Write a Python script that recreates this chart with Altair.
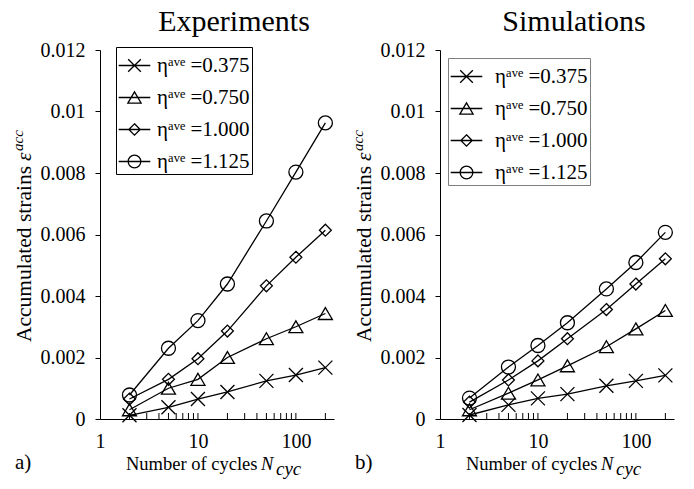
import altair as alt
import pandas as pd

# Number of loading cycles at which the accumulated strain was recorded
cycles = [2, 5, 10, 20, 50, 100, 200]

# Series labels (average stress ratio)
eta_labels = ["ηᵃᵛᵉ =0.375", "ηᵃᵛᵉ =0.750", "ηᵃᵛᵉ =1.000", "ηᵃᵛᵉ =1.125"]

# Experiments: accumulated strain per series
exp_0375 = [0.00012, 0.00038, 0.00065, 0.00088, 0.00124, 0.00143, 0.00167]
exp_0750 = [0.00030, 0.00100, 0.00129, 0.00200, 0.00261, 0.00300, 0.00343]
exp_1000 = [0.00065, 0.00129, 0.00196, 0.00286, 0.00433, 0.00526, 0.00614]
exp_1125 = [0.00078, 0.00230, 0.00320, 0.00439, 0.00644, 0.00803, 0.00963]

# Simulations: accumulated strain per series
sim_0375 = [0.00013, 0.00046, 0.00067, 0.00081, 0.00108, 0.00124, 0.00142]
sim_0750 = [0.00030, 0.00084, 0.00127, 0.00173, 0.00235, 0.00293, 0.00353]
sim_1000 = [0.00055, 0.00127, 0.00189, 0.00261, 0.00356, 0.00439, 0.00521]
sim_1125 = [0.00068, 0.00169, 0.00239, 0.00313, 0.00423, 0.00509, 0.00607]

# Axis ticks / labels
x_labels = [1, 10, 100]
x_minor = [2, 3, 4, 5, 6, 7, 8, 9, 10, 20, 30, 40, 50, 60, 70, 80, 90, 100, 200]
y_ticks = [0, 0.002, 0.004, 0.006, 0.008, 0.01, 0.012]

FONT = "Liberation Serif"
W, H = 234, 369

# unfilled marker outlines (x, triangle, diamond, circle)
marker_paths = [
    "M-1,-1L1,1M-1,1L1,-1",
    "M0,-0.85L1,0.85L-1,0.85Z",
    "M0,-0.85L0.85,0L0,0.85L-0.85,0Z",
    "M1,0A1,1 0 1,1 -1,0A1,1 0 1,1 1,0Z",
]
# legend glyphs: a short line with the marker on it
legend_paths = [
    "M-1,0L1,0M-0.4,-0.4L0.4,0.4M-0.4,0.4L0.4,-0.4",
    "M-1,0L1,0M0,-0.36L0.42,0.36L-0.42,0.36Z",
    "M-1,0L1,0M0,-0.36L0.36,0L0,0.36L-0.36,0Z",
    "M-1,0L1,0M0.4,0A0.4,0.4 0 1,1 -0.4,0A0.4,0.4 0 1,1 0.4,0Z",
]


def long_table(series):
    rows = []
    for label, vals in zip(eta_labels, series):
        for n, v in zip(cycles, vals):
            rows.append({"N": n, "strain": v, "label": label})
    return pd.DataFrame(rows)


def text_piece(txt, x, y, size, style="normal", angle=0):
    return alt.Chart(pd.DataFrame({"t": [txt]})).mark_text(
        text=txt, font=FONT, fontSize=size, fontStyle=style, color="black",
        align="left", baseline="alphabetic", angle=angle,
    ).encode(x=alt.value(x), y=alt.value(y))


def panel(title, series, lx, ly, lstroke, loffset, letter):
    df = long_table(series)
    x = alt.X(
        "N:Q",
        scale=alt.Scale(type="log", domain=[1, 245], nice=False),
        axis=alt.Axis(values=x_labels, format="d", ticks=False, grid=False, title=None,
                      labelFont=FONT, labelFontSize=20, labelColor="black",
                      labelPadding=12, labelFlush=False, labelOverlap=False,
                      domainColor="black", domainWidth=1),
    )
    y = alt.Y(
        "strain:Q",
        scale=alt.Scale(domain=[0, 0.012], nice=False),
        axis=alt.Axis(values=y_ticks, format="~g", grid=False, title=None,
                      tickSize=5, tickColor="black", labelFont=FONT, labelFontSize=20,
                      labelColor="black", labelPadding=10, labelOverlap=False,
                      domainColor="black", domainWidth=1),
    )

    lines = alt.Chart(df).mark_line(color="black", strokeWidth=1.3).encode(
        x=x, y=y, detail="label:N")
    points = alt.Chart(df).mark_point(
        filled=False, color="black", strokeWidth=1.3, size=196, opacity=1
    ).encode(
        x=x, y=y,
        shape=alt.Shape("label:N", scale=alt.Scale(domain=eta_labels, range=marker_paths),
                        legend=None),
    )
    legend_layer = alt.Chart(df).transform_filter("false").mark_point(
        filled=False, color="black", strokeWidth=1.3, opacity=1
    ).encode(
        x=x, y=y,
        shape=alt.Shape(
            "label:N",
            scale=alt.Scale(domain=eta_labels, range=legend_paths),
            legend=alt.Legend(
                title=None, orient="none", legendX=lx, legendY=ly,
                labelFont=FONT, labelFontSize=21, labelColor="black", labelLimit=300,
                symbolSize=1000, symbolStrokeWidth=1.3, symbolStrokeColor="black",
                symbolFillColor="transparent", symbolOpacity=1,
                strokeColor=lstroke, fillColor="white", padding=2,
                rowPadding=5, labelOffset=loffset,
            ),
        ),
    )
    minor = alt.Chart(pd.DataFrame({"N": x_minor})).mark_rule(
        color="black", strokeWidth=1).encode(x=x, y=alt.value(H), y2=alt.value(H - 6))

    pieces = [
        # x-axis title: Number of cycles N_cyc
        text_piece("Number of cycles", 26, 420, 18.5),
        text_piece("N", 161, 420, 18.5, "italic"),
        text_piece("cyc", 176, 425, 19, "italic"),
        # y-axis title: Accumulated strains ε^acc
        text_piece("Accumulated strains ", -69, 292, 21.5, angle=270),
        text_piece("ε", -69, 111, 21.5, "italic", angle=270),
        text_piece("acc", -77, 101, 15, "italic", angle=270),
        # panel letter
        text_piece(letter, -85, 419, 21),
    ]

    return alt.layer(lines, minor, points, legend_layer, *pieces).resolve_scale(
        shape="independent"
    ).properties(
        width=W, height=H,
        title=alt.TitleParams(title, font=FONT, fontSize=30, fontWeight="normal",
                              color="black", anchor="middle", frame="group",
                              dx=17, offset=3),
    )


left = panel("Experiments", [exp_0375, exp_0750, exp_1000, exp_1125],
             16, -3, "black", 6, "a)")
right = panel("Simulations", [sim_0375, sim_0750, sim_1000, sim_1125],
              8, 8, "#7f7f7f", 12, "b)")

chart = alt.hconcat(left, right, spacing=16).resolve_scale(
    shape="independent"
).configure_view(stroke=None).properties(
    padding={"left": 11, "top": 7, "right": 5, "bottom": 0},
    background="white",
)

chart.save("out.html", embed_options={"renderer": "svg", "actions": False})
